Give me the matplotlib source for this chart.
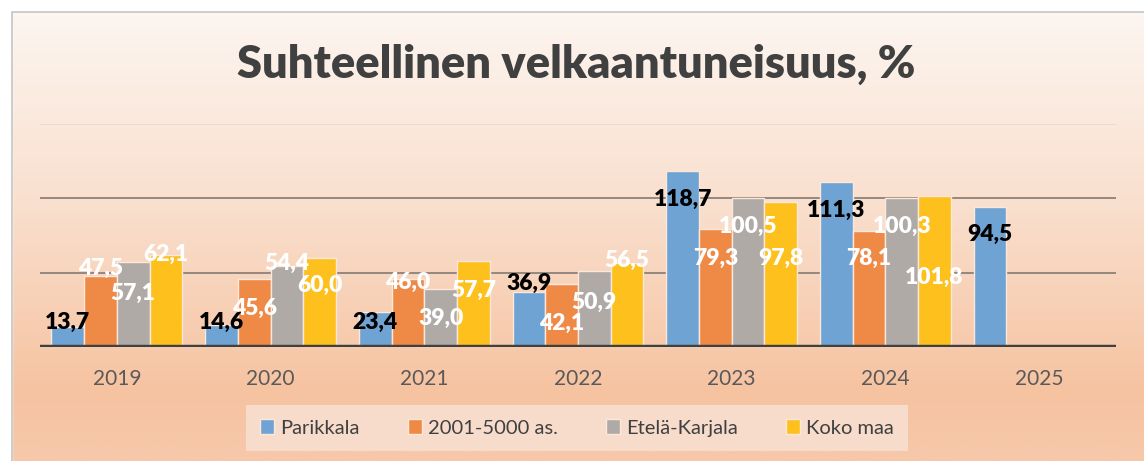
import numpy as np
import matplotlib.pyplot as plt
from matplotlib.colors import LinearSegmentedColormap
from matplotlib.patches import Rectangle

years = ['2019', '2020', '2021', '2022', '2023', '2024', '2025']
series = ['Parikkala', '2001-5000 as.', 'Etelä-Karjala', 'Koko maa']
parikkala = [13.7, 14.6, 23.4, 36.9, 118.7, 111.3, 94.5]
kunnat_2001_5000 = [47.5, 45.6, 46.0, 42.1, 79.3, 78.1, None]
etela_karjala = [57.1, 54.4, 39.0, 50.9, 100.5, 100.3, None]
koko_maa = [62.1, 60.0, 57.7, 56.5, 97.8, 101.8, None]

colors = ['#6fa3d3', '#ee8a45', '#afaaa6', '#fdc01c']
label_colors = ['black', 'white', 'white', 'white']
# label heights (hand placed in the original chart)
lbl_y = [
    [16.8, 16.8, 16.8, 43.0, 99.6, 92.2, 75.4],
    [53.2, 26.2, 43.7, 16.1, 59.9, 59.9, None],
    [36.3, 56.5, 19.5, 30.3, 81.4, 81.4, None],
    [62.6, 41.7, 38.4, 58.5, 59.9, 47.1, None],
]

plt.rcParams['font.family'] = ['Lato', 'DejaVu Sans']

W, H = 1144, 461
fig = plt.figure(figsize=(W / 100, H / 100), dpi=100)

# background gradient
bg = fig.add_axes([0, 0, 1, 1], zorder=-5)
cmap = LinearSegmentedColormap.from_list('bg', [
    (0.0, (253/255, 247/255, 243/255)),
    (0.45, (249/255, 223/255, 205/255)),
    (0.85, (246/255, 195/255, 161/255)),
    (1.0, (246/255, 200/255, 170/255)),
])
grad = np.linspace(0, 1, 256).reshape(-1, 1)
bg.imshow(grad, aspect='auto', cmap=cmap, extent=[0, 1, 0, 1])
bg.add_patch(Rectangle((0, 1 - 12 / H), 1, 12 / H, color='white', zorder=2))
bg.add_patch(Rectangle((0, 0), 12 / W, 1, color='white', zorder=2))
bg.plot([12 / W, 12 / W, 1], [0, 1 - 12 / H, 1 - 12 / H], color='#c4c4c4', lw=1.2, zorder=3)
bg.set_xlim(0, 1)
bg.set_ylim(0, 1)
bg.axis('off')

ax = fig.add_axes([40 / W, (H - 347) / H, 1076 / W, 223 / H])
ax.set_facecolor('none')

x = np.arange(len(years))
w = 0.213
all_data = [parikkala, kunnat_2001_5000, etela_karjala, koko_maa]
for i, (name, vals) in enumerate(zip(series, all_data)):
    xs = [xx + (i - 1.5) * w for xx, v in zip(x, vals) if v is not None]
    vs = [v for v in vals if v is not None]
    ax.bar(xs, vs, width=w, color=colors[i], edgecolor='#fbe8da', linewidth=1.0,
           label=name, zorder=3)
    for xx, v, ly in zip(xs, vs, lbl_y[i]):
        ax.text(xx, ly, f'{v:.1f}'.replace('.', ','), ha='center', va='center',
                fontsize=16.5, fontweight='heavy', color=label_colors[i], zorder=5)

ax.set_xlim(-0.5, len(years) - 0.5)
ax.set_ylim(0, 150)
ax.set_yticks([])
for gy, gc in [(50, '#8e817a'), (100, '#8e817a'), (150, '#eadbd0')]:
    ax.axhline(gy, color=gc, lw=1.3, zorder=1)
ax.axhline(0, color='#404040', lw=3.2, zorder=4)
for s in ax.spines.values():
    s.set_visible(False)
ax.set_xticks(x)
ax.set_xticklabels(years, fontsize=15, color='#595959')
ax.tick_params(axis='x', length=0, pad=16)

fig.text(576 / W, 1 - 64 / H, 'Suhteellinen velkaantuneisuus, %', ha='center', va='center',
         fontsize=32.5, fontweight='heavy', color='#404040')

leg = ax.legend(loc='center', bbox_to_anchor=(577 / W, 1 - 428 / H), bbox_transform=fig.transFigure,
                ncol=4, frameon=True, fontsize=14.5, handlelength=0.7, handleheight=0.7,
                handletextpad=0.3, columnspacing=2.4, borderpad=0.7, fancybox=False)
leg.get_frame().set_facecolor('#f7dccb')
leg.get_frame().set_edgecolor('none')
leg.get_frame().set_alpha(1)
for t in leg.get_texts():
    t.set_color('#404040')

fig.savefig('out.png', dpi=100)
